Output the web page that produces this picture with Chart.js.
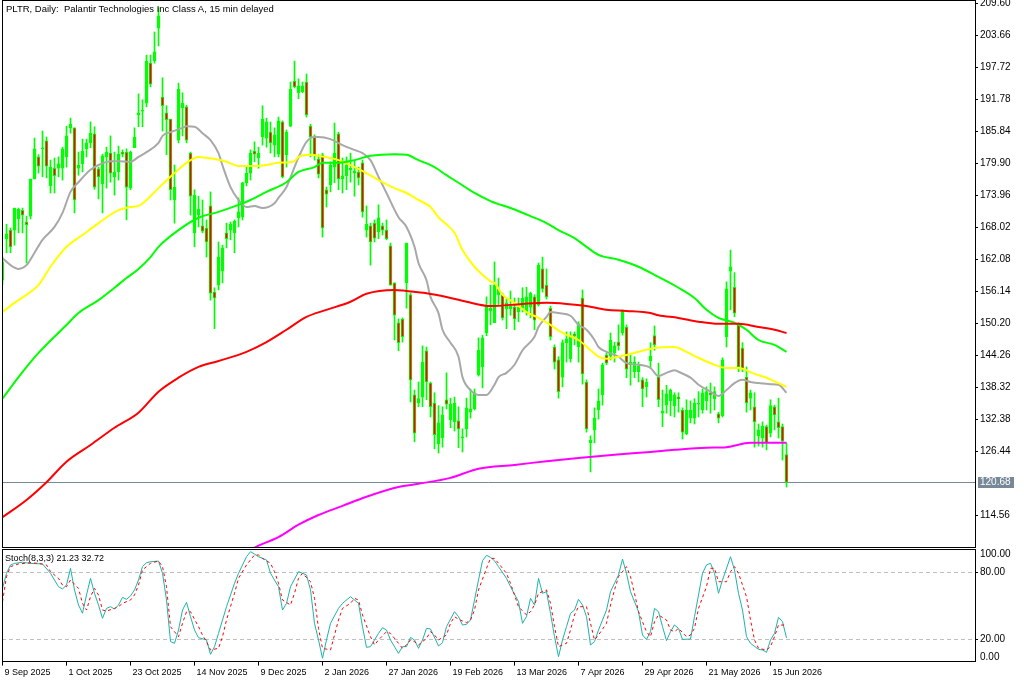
<!DOCTYPE html>
<html>
<head>
<meta charset="utf-8">
<script src="https://cdn.jsdelivr.net/npm/chart.js@4.4.1/dist/chart.umd.min.js"></script>
<style>
  html, body { margin:0; padding:0; background:#fff; }
  body { width:1024px; height:683px; position:relative; overflow:hidden; }
  #c1 { position:absolute; left:0; top:0; }
  #c2 { position:absolute; left:0; top:548px; }
  .lbl { position:absolute; font-family:"Liberation Sans", Arial, sans-serif; color:#000; white-space:pre; line-height:1; }
</style>
</head>
<body>
<canvas id="c1" width="1024" height="548"></canvas>
<canvas id="c2" width="1024" height="135"></canvas>
<div class="lbl" id="title" style="left:6px;top:4px;font-size:9.5px">PLTR, Daily:  Palantir Technologies Inc Class A, 15 min delayed</div>
<div class="lbl" id="stochTitle" style="left:5px;top:554px;font-size:9px"></div>
<script>
// ---------------- DATA ----------------
const tickLabels = ['9 Sep 2025','1 Oct 2025','23 Oct 2025','14 Nov 2025','9 Dec 2025','2 Jan 2026','27 Jan 2026','19 Feb 2026','13 Mar 2026','7 Apr 2026','29 Apr 2026','21 May 2026','15 Jun 2026'];
const priceTicks = [209.60,203.66,197.72,191.78,185.84,179.90,173.96,168.02,162.08,156.14,150.20,144.26,138.32,132.38,126.44,114.56];
const stochLevels = [0,20,80,100];

const openP = [158.2,165.9,167.5,167.5,169.6,171.2,169.0,170.1,177.0,181.1,182.6,184.1,175.7,179.0,179.0,179.0,181.1,186.5,186.5,179.0,
179.8,182.6,183.7,185.4,178.9,176.1,181.1,181.8,177.4,178.3,182.0,182.0,175.3,182.8,188.9,189.6,191.1,198.5,198.9,205.0,
192.2,189.3,188.1,173.1,184.2,190.2,190.4,181.8,167.0,170.3,168.3,167.9,172.0,156.0,157.3,159.9,167.0,167.5,167.0,169.8,
169.9,176.3,178.1,182.2,180.9,184.8,184.6,185.7,183.3,181.6,187.6,181.5,186.8,195.2,193.0,193.2,195.0,186.8,184.8,180.7,
181.5,175.0,175.9,179.2,185.4,177.0,177.6,178.7,178.1,178.3,180.0,167.5,168.3,168.8,167.2,168.3,167.5,164.6,157.7,150.3,
151.0,157.7,155.5,136.9,135.4,136.5,145.1,139.1,135.4,127.8,128.9,136.0,132.3,131.9,132.1,128.9,130.6,133.7,134.3,140.6,
142.1,148.4,152.5,150.3,155.5,155.5,152.9,152.9,153.2,152.3,153.0,152.3,153.2,155.1,153.6,160.3,157.3,153.0,145.8,143.4,
140.2,146.6,143.6,148.2,145.8,154.9,139.3,128.0,130.4,134.1,136.9,144.3,144.1,144.7,146.7,148.4,149.5,142.5,141.2,141.2,
139.7,138.4,143.2,147.9,140.2,133.5,135.0,135.8,134.9,136.5,134.1,129.7,132.6,132.6,135.2,134.1,135.8,137.3,136.2,133.4,
133.0,147.7,159.9,156.9,149.9,145.6,140.2,136.3,134.7,129.3,128.9,131.0,129.8,134.7,131.9,131.0,125.8];
const highP = [162.5,168.6,167.9,171.6,171.6,171.6,170.1,177.0,184.6,181.5,185.9,184.8,180.5,180.9,181.1,182.9,186.8,188.3,186.5,182.0,
184.4,184.4,187.6,186.7,179.2,181.6,182.9,185.0,182.0,183.1,182.4,182.6,182.2,186.5,192.8,191.7,200.0,200.0,204.3,208.8,
195.8,190.6,188.1,179.6,194.8,193.0,190.7,182.0,175.0,173.8,173.1,169.4,174.6,156.8,165.3,164.7,168.8,169.0,169.4,173.5,
176.4,179.4,182.4,183.9,182.9,190.6,188.3,187.6,186.5,188.5,187.8,186.1,195.0,198.9,195.6,195.0,196.5,187.2,185.2,181.5,
181.8,175.5,180.2,187.4,185.7,180.9,181.1,181.8,180.5,179.2,180.5,172.0,168.8,169.4,172.2,168.8,169.4,165.1,157.7,151.0,
151.2,165.1,155.8,137.8,139.3,146.0,145.8,139.3,137.3,134.9,134.7,141.0,136.3,136.5,134.7,130.6,136.3,138.0,138.0,147.5,
148.0,155.1,157.3,161.6,158.6,155.8,154.7,156.2,154.9,154.9,156.8,156.9,156.0,155.5,161.4,162.5,160.3,153.4,146.2,144.0,
147.1,148.6,148.6,148.6,150.5,156.4,139.7,129.3,134.5,138.0,142.8,144.7,148.4,146.7,149.9,152.7,149.9,144.3,144.0,143.0,
140.1,139.9,146.6,149.7,142.8,137.8,138.7,138.0,137.3,137.3,134.5,136.0,135.8,136.2,137.5,138.0,138.4,139.1,138.4,133.7,
143.8,157.9,163.8,159.6,150.3,146.6,142.1,137.8,137.3,131.5,131.9,131.3,136.0,135.0,136.3,131.5,128.0];
const lowP = [157.3,163.3,163.3,164.7,167.0,167.0,161.4,169.6,177.0,178.1,177.4,177.2,174.4,174.4,177.4,176.8,179.2,185.5,170.7,177.7,
178.3,181.1,182.8,175.1,173.3,170.7,175.3,176.4,174.0,176.8,181.1,169.4,175.0,182.8,186.7,186.7,190.4,194.1,198.5,201.7,
185.9,181.5,173.1,168.8,183.7,185.0,183.7,170.3,164.4,168.1,167.0,162.5,154.5,149.2,156.4,157.7,164.2,165.7,163.3,168.1,
169.4,175.7,176.8,180.2,179.0,183.3,182.9,181.8,181.1,181.1,177.2,179.2,186.7,193.9,191.9,193.0,188.5,181.1,180.5,177.2,
166.2,171.8,174.6,176.3,175.0,174.4,175.0,176.4,173.8,175.9,169.9,166.2,161.0,165.3,165.9,166.6,165.7,157.3,147.1,145.1,
146.7,153.0,135.6,128.2,134.7,134.7,136.0,132.8,126.9,126.1,127.2,134.3,130.8,130.2,127.1,126.3,129.1,132.6,134.1,140.4,
138.2,147.9,149.9,150.3,153.6,150.8,149.2,151.7,149.0,150.5,152.3,151.7,151.2,149.0,153.4,156.0,154.7,147.1,141.7,136.3,
138.4,143.0,143.0,146.2,143.0,138.9,130.0,122.6,128.0,132.4,135.0,142.5,143.4,143.0,145.2,148.0,140.1,138.7,140.1,139.3,
134.7,136.5,141.9,145.2,134.7,131.0,133.5,133.0,132.8,133.7,128.7,129.5,131.7,131.5,132.8,133.5,134.1,133.5,134.1,131.7,
132.8,145.8,152.7,151.4,141.2,141.2,133.7,134.1,127.2,127.4,127.2,126.7,129.1,130.4,128.9,124.8,119.8];
const closeP = [161.6,166.8,164.4,171.6,171.4,170.3,168.5,177.0,182.6,179.4,182.8,179.4,179.2,177.6,179.8,182.6,185.0,187.2,173.1,179.6,
182.2,183.7,185.5,175.5,177.4,181.3,182.0,178.1,178.3,181.6,181.6,175.5,182.0,184.8,189.3,189.8,198.9,194.6,200.6,207.3,
190.6,188.0,175.0,175.5,193.7,191.1,184.2,173.8,174.0,171.4,167.3,165.3,155.8,154.9,162.5,164.2,165.9,168.6,169.2,170.9,
176.3,178.1,181.8,181.6,181.8,188.1,187.6,183.7,185.2,187.8,177.4,185.7,193.7,194.1,194.3,194.3,188.9,184.8,181.5,177.9,
167.9,174.2,179.6,181.8,177.0,177.6,179.6,179.0,178.5,177.2,170.9,168.6,165.3,166.0,169.8,167.5,165.9,157.3,151.7,146.6,
147.7,165.1,139.7,129.8,136.2,143.0,139.3,134.7,129.5,131.7,133.2,135.2,135.2,135.4,130.6,129.1,134.5,134.3,137.3,145.2,
147.5,153.6,153.0,157.3,156.6,151.2,154.0,153.4,151.0,153.2,154.9,155.1,155.8,150.8,161.0,156.6,155.1,147.7,143.0,137.5,
146.6,147.3,147.9,147.9,150.1,140.8,130.6,128.5,132.6,135.8,142.5,142.8,147.1,146.0,146.0,152.5,141.7,143.0,143.0,142.3,
138.0,139.3,144.1,146.2,136.0,133.9,137.1,137.8,136.9,136.2,130.0,134.1,134.1,135.4,135.4,137.3,137.5,136.9,137.5,132.6,
143.4,156.6,160.7,152.1,142.1,141.7,135.4,137.3,131.9,130.4,131.1,128.0,134.9,133.2,130.8,128.3,120.68];

// moving averages: [bar, value]
const maGrey = [[0,162.3],[2,161.0],[4,160.3],[6,161.0],[8,163.3],[10,165.7],[13,168.1],[15,170.7],[17,174.6],[19,176.4],[22,178.7],[24,179.6],[27,180.3],[29,180.3],[32,180.2],[34,181.1],[36,182.0],[39,183.7],[40,185.0],[42,185.7],[45,186.5],[46,186.8],[48,186.7],[50,185.5],[52,184.2],[54,181.8],[55,179.5],[57,175.5],[59,173.1],[61,171.8],[63,172.0],[65,171.6],[68,172.5],[69,173.5],[71,175.5],[73,179.2],[74,181.0],[76,183.9],[78,184.8],[79,184.8],[82,184.4],[85,183.3],[88,182.4],[90,181.8],[92,180.5],[94,177.4],[96,174.4],[99,169.9],[101,168.1],[103,164.4],[104,161.4],[106,158.2],[107,155.1],[109,152.1],[110,149.0],[112,146.6],[114,144.0],[115,140.2],[117,137.8],[119,136.9],[121,136.9],[123,138.8],[124,140.2],[126,141.0],[128,142.5],[130,145.2],[133,147.7],[134,149.5],[136,151.4],[137,152.3],[139,152.1],[142,151.6],[144,149.9],[146,149.0],[148,147.1],[149,145.8],[151,144.9],[154,144.0],[156,142.8],[159,142.5],[162,141.9],[164,140.4],[166,141.0],[168,141.5],[169,141.2],[172,140.1],[174,138.8],[177,137.5],[179,136.7],[181,137.8],[183,139.1],[185,139.7],[187,139.3],[189,139.1],[192,138.9],[194,138.8],[196,137.3]];
const maYellow = [[0,152.3],[3,154.0],[6,155.5],[9,157.3],[12,160.7],[16,164.4],[20,166.6],[24,168.8],[29,171.2],[32,171.8],[34,172.0],[36,173.1],[39,175.3],[43,178.1],[46,180.0],[49,181.1],[53,180.7],[56,180.2],[59,179.4],[63,179.4],[66,179.6],[69,180.0],[73,180.3],[74,181.1],[77,181.5],[79,181.3],[84,180.5],[88,179.2],[91,178.1],[94,176.8],[98,175.3],[101,174.4],[104,173.1],[107,171.8],[109,169.9],[113,167.0],[115,163.8],[118,160.7],[120,159.2],[122,158.0],[123,157.7],[125,155.5],[128,154.0],[131,152.3],[134,151.2],[137,149.9],[140,148.4],[144,147.1],[147,145.2],[149,144.0],[151,143.6],[154,144.0],[156,144.3],[159,144.9],[163,145.6],[168,145.8],[171,144.9],[174,143.8],[178,142.5],[181,141.9],[184,141.9],[188,140.8],[191,140.1],[194,139.1],[196,138.4]];
const maGreen = [[0,136.2],[4,140.2],[9,144.7],[16,149.9],[19,152.1],[24,154.5],[28,156.8],[31,158.6],[34,160.3],[37,162.5],[39,164.4],[44,167.5],[49,169.8],[54,170.9],[59,172.2],[62,173.1],[66,174.6],[71,176.4],[74,178.3],[78,179.2],[80,180.0],[84,180.0],[88,180.5],[92,181.3],[98,181.6],[101,181.5],[104,180.5],[108,179.2],[111,177.7],[114,176.3],[118,174.4],[122,172.9],[127,171.6],[132,170.1],[136,168.8],[139,167.5],[143,166.0],[146,164.4],[149,162.9],[154,162.0],[159,160.7],[164,158.8],[169,156.8],[173,154.9],[176,152.7],[179,151.2],[183,150.3],[186,149.0],[189,147.1],[193,146.2],[196,144.9]];
const maRed = [[0,114.2],[6,117.4],[11,120.7],[16,124.5],[22,127.6],[28,130.8],[34,133.6],[39,137.5],[44,140.1],[49,142.1],[54,143.2],[61,144.9],[66,146.7],[71,149.0],[76,151.4],[81,152.7],[87,154.2],[91,155.7],[98,156.4],[101,156.2],[106,155.8],[111,155.1],[116,154.2],[122,153.4],[130,153.8],[136,154.0],[141,153.8],[146,153.4],[151,152.7],[156,152.5],[162,152.1],[164,151.7],[169,151.2],[174,150.5],[179,150.1],[184,150.1],[189,149.5],[193,149.0],[196,148.4]];
const maMagenta = [[61,107.7],[64,108.9],[69,110.5],[74,112.8],[79,114.6],[85,116.3],[91,118.0],[99,119.8],[104,120.4],[112,121.5],[119,123.2],[128,123.9],[136,124.6],[144,125.2],[153,125.8],[162,126.3],[168,126.7],[176,127.1],[181,127.2],[187,128.0],[196,128.0]];

// stochastic (8,3,3): [bar, value]
const stochK = [[0,65.6],[1,79.1],[2,86.6],[3,88.0],[5,89.0],[7,88.0],[10,87.5],[12,79.1],[13,73.1],[14,67.1],[15,65.1],[16,68.6],[17,83.6],[18,64.2],[19,50.7],[20,43.3],[21,59.7],[22,74.6],[23,61.2],[24,50.7],[25,38.8],[26,47.7],[27,49.2],[28,47.1],[29,50.7],[30,57.6],[31,55.8],[32,58.8],[33,64.2],[34,73.1],[35,85.1],[36,88.6],[37,89.5],[39,90.1],[40,79.1],[41,55.2],[42,17.9],[43,16.4],[44,28.3],[45,46.2],[46,53.1],[47,40.3],[48,28.3],[49,21.4],[51,19.4],[52,6.5],[53,13.4],[54,25.3],[56,49.2],[58,70.1],[59,79.1],[61,94.0],[62,98.5],[63,96.4],[64,94.0],[66,91.0],[67,79.1],[69,67.1],[70,46.2],[71,52.2],[72,67.1],[74,80.6],[76,77.6],[77,64.2],[78,34.3],[79,19.4],[80,3.0],[81,19.4],[82,34.3],[84,47.7],[85,52.2],[87,58.2],[89,52.2],[90,31.3],[91,12.8],[92,13.4],[94,25.3],[95,30.4],[96,28.3],[97,19.4],[99,7.4],[100,13.4],[101,13.4],[102,21.7],[103,19.4],[104,11.9],[105,19.4],[106,29.8],[107,29.2],[109,14.0],[110,17.0],[111,31.3],[113,44.7],[114,40.3],[115,32.8],[116,33.4],[117,37.3],[118,55.2],[119,73.1],[120,90.4],[121,95.2],[122,93.4],[123,90.4],[124,85.1],[126,74.6],[127,67.1],[129,53.7],[130,34.3],[131,40.3],[132,56.7],[133,50.7],[134,74.6],[135,61.2],[136,62.7],[137,43.2],[138,22.3],[139,4.4],[140,19.4],[141,31.3],[142,43.2],[143,46.2],[144,55.8],[145,50.7],[146,40.3],[147,14.9],[148,17.9],[149,28.3],[151,46.2],[152,62.7],[154,77.6],[155,91.9],[156,79.1],[157,62.7],[159,44.7],[160,23.8],[161,19.9],[162,26.8],[163,47.7],[164,44.7],[165,31.3],[166,18.8],[167,26.8],[168,32.8],[169,29.8],[170,19.9],[172,20.2],[173,40.3],[174,59.7],[175,79.1],[176,86.6],[177,88.1],[178,79.1],[179,61.2],[180,73.1],[182,94.0],[183,82.1],[184,61.2],[185,46.2],[186,22.3],[187,16.4],[189,11.0],[190,10.4],[191,8.3],[192,19.4],[193,25.3],[194,39.7],[195,35.8],[196,21.23]];
const stochD = [[0,53.7],[1,76.1],[2,85.1],[4,87.5],[7,88.5],[9,88.0],[11,86.6],[12,80.6],[14,74.6],[15,68.6],[16,67.1],[17,73.1],[19,65.6],[20,52.2],[21,46.2],[22,58.2],[23,65.6],[24,59.7],[25,46.2],[26,45.3],[28,47.7],[29,49.2],[30,52.2],[32,55.2],[33,59.7],[34,68.6],[35,82.1],[37,88.1],[39,90.1],[40,85.1],[41,67.1],[42,31.3],[44,22.3],[45,34.3],[46,44.7],[47,44.7],[49,31.3],[50,23.8],[51,17.9],[52,10.4],[54,11.9],[55,22.3],[56,37.3],[58,61.2],[59,74.6],[61,86.6],[63,95.5],[64,95.5],[65,92.5],[67,88.1],[68,80.6],[69,70.1],[70,55.2],[72,50.7],[73,61.2],[74,74.6],[75,79.1],[77,71.6],[78,56.7],[79,29.8],[80,11.9],[82,10.4],[83,23.8],[84,37.3],[85,47.7],[87,52.2],[88,56.7],[89,55.2],[90,41.8],[92,22.3],[93,14.9],[94,19.4],[96,26.8],[97,25.3],[99,16.4],[100,11.9],[101,14.9],[102,19.4],[103,17.9],[104,14.9],[106,20.8],[107,26.8],[108,23.8],[109,19.4],[111,23.8],[112,34.3],[113,40.3],[114,37.9],[116,34.9],[117,37.3],[118,46.2],[119,64.2],[121,83.6],[122,92.5],[123,92.5],[124,88.1],[126,79.1],[127,70.1],[128,59.7],[129,49.2],[131,41.8],[132,44.7],[133,50.7],[134,61.2],[136,64.2],[137,52.2],[138,31.3],[139,13.4],[141,16.4],[142,28.3],[143,41.8],[144,49.2],[146,49.2],[147,34.3],[148,19.4],[149,23.8],[151,34.3],[152,50.7],[153,64.2],[154,76.1],[156,85.1],[157,76.1],[158,61.2],[159,44.7],[161,26.8],[162,22.3],[163,35.8],[164,41.8],[166,37.3],[167,28.3],[168,26.8],[169,29.8],[171,22.3],[172,23.8],[173,29.8],[174,47.7],[176,67.1],[177,83.6],[178,83.6],[179,71.6],[181,71.6],[182,80.6],[183,85.1],[184,79.1],[186,58.2],[187,37.3],[188,19.4],[189,11.9],[191,10.4],[192,13.4],[193,22.3],[194,32.8],[196,32.72]];

// ---------------- CHART ----------------
const X_MIN = -0.125, X_MAX = 243.125;   // 4px per bar
const Y_MIN = 108.66, Y_MAX = 210.05;
const FONT = '"Liberation Sans", Arial, sans-serif';
const lastPrice = closeP[closeP.length - 1];
const lastK = stochK[stochK.length - 1][1], lastD = stochD[stochD.length - 1][1];
document.getElementById('stochTitle').textContent = 'Stoch(8,3,3) ' + lastK.toFixed(2) + ' ' + lastD.toFixed(2);

const wickData = openP.map((o, i) => ({ x: i, y: [lowP[i], highP[i]] }));
const bodyData = openP.map((o, i) => ({ x: i, y: [o, closeP[i]] }));
const pts = arr => arr.map(p => ({ x: p[0], y: p[1] }));
const lineDs = (arr, color, width) => ({
  type: 'line', data: pts(arr), borderColor: color, borderWidth: width,
  pointRadius: 0, cubicInterpolationMode: 'monotone', order: 0, fill: false
});

const mainPlugin = {
  id: 'mainDecor',
  beforeDatasetsDraw(chart) {
    const { ctx, chartArea: a, scales } = chart;
    const y = Math.round(scales.y.getPixelForValue(lastPrice)) + 0.5;
    ctx.save();
    ctx.strokeStyle = '#778899'; ctx.lineWidth = 1;
    ctx.beginPath(); ctx.moveTo(a.left, y); ctx.lineTo(a.right, y); ctx.stroke();
    ctx.restore();
  },
  afterDraw(chart) {
    const { ctx, chartArea: a, scales } = chart;
    ctx.save();
    ctx.strokeStyle = '#000'; ctx.lineWidth = 1;
    ctx.strokeRect(a.left + 0.5, 0.5, a.right - a.left, 547);
    const y = Math.round(scales.y.getPixelForValue(lastPrice));
    ctx.fillStyle = '#778899';
    ctx.fillRect(a.right + 3, y - 5, 36, 11);
    ctx.fillStyle = '#ffffff';
    ctx.font = '10px ' + FONT; ctx.textBaseline = 'middle'; ctx.textAlign = 'left';
    ctx.fillText(lastPrice.toFixed(2), a.right + 5, y + 0.5);
    ctx.restore();
  }
};

new Chart(document.getElementById('c1'), {
  type: 'bar',
  data: {
    datasets: [
      lineDs(maMagenta, '#ff00ff', 2),
      lineDs(maRed, '#ff0000', 2),
      lineDs(maGreen, '#00ff00', 2),
      lineDs(maYellow, '#ffff00', 2),
      lineDs(maGrey, '#a8a8a8', 2),
      { type: 'bar', data: bodyData, grouped: false, barThickness: 3, minBarLength: 1,
        backgroundColor: ctx => (closeP[ctx.dataIndex] >= openP[ctx.dataIndex] ? '#00ff00' : '#ff0000'),
        borderColor: '#00ff00', borderWidth: 1, borderSkipped: false, order: 2 },
      { type: 'bar', data: wickData, grouped: false, barThickness: 1, minBarLength: 1,
        backgroundColor: '#00ff00', borderWidth: 0, order: 3 }
    ]
  },
  options: {
    responsive: false, animation: false, devicePixelRatio: 1,
    layout: { padding: { left: 2, top: 1, right: 0, bottom: 1 } },
    plugins: { legend: { display: false }, tooltip: { enabled: false }, title: { display: false } },
    scales: {
      x: { type: 'linear', min: X_MIN, max: X_MAX, display: false, offset: false },
      y: {
        position: 'right', min: Y_MIN, max: Y_MAX,
        afterFit(s) { s.width = 49; s.paddingTop = 0; s.paddingBottom = 0; },
        afterBuildTicks(s) { s.ticks = priceTicks.map(v => ({ value: v })); },
        ticks: { callback: v => Number(v).toFixed(2), font: { family: FONT, size: 10 }, color: '#000', padding: 2, autoSkip: false },
        grid: { drawOnChartArea: false, drawTicks: true, tickLength: 3, color: '#000', tickColor: '#000' },
        border: { display: false }
      }
    }
  },
  plugins: [mainPlugin]
});

const stochPlugin = {
  id: 'stochDecor',
  beforeDatasetsDraw(chart) {
    const { ctx, chartArea: a, scales } = chart;
    ctx.save();
    ctx.strokeStyle = '#c0c0c0'; ctx.lineWidth = 1; ctx.setLineDash([4, 3]);
    stochLevels.filter(v => v > 0 && v < 100).forEach(v => {
      const y = Math.round(scales.y.getPixelForValue(v)) + 0.5;
      ctx.beginPath(); ctx.moveTo(a.left, y); ctx.lineTo(a.right, y); ctx.stroke();
    });
    ctx.restore();
  },
  afterDraw(chart) {
    const { ctx, chartArea: a, scales } = chart;
    ctx.save();
    ctx.strokeStyle = '#000'; ctx.lineWidth = 1;
    ctx.strokeRect(a.left + 0.5, 1.5, a.right - a.left, 112);
    ctx.font = '10px ' + FONT; ctx.fillStyle = '#000'; ctx.textBaseline = 'middle'; ctx.textAlign = 'left';
    stochLevels.forEach(v => {
      const yp = scales.y.getPixelForValue(v);
      let ty = yp;
      if (v === 100) ty = yp + 4.5;
      else if (v === 0) ty = yp - 4.5;
      else {
        const yy = Math.round(yp) + 0.5;
        ctx.beginPath(); ctx.moveTo(a.right, yy); ctx.lineTo(a.right + 3, yy); ctx.stroke();
      }
      ctx.fillText(v.toFixed(2), a.right + 5, ty);
    });
    ctx.restore();
  }
};

new Chart(document.getElementById('c2'), {
  type: 'line',
  data: {
    datasets: [
      { data: pts(stochD), borderColor: '#ff0000', borderWidth: 1, borderDash: [3, 3], pointRadius: 0, tension: 0, fill: false },
      { data: pts(stochK), borderColor: '#20b2aa', borderWidth: 1, pointRadius: 0, tension: 0, fill: false }
    ]
  },
  options: {
    responsive: false, animation: false, devicePixelRatio: 1,
    layout: { padding: { left: 2, top: 2, right: 49, bottom: 0 } },
    plugins: { legend: { display: false }, tooltip: { enabled: false } },
    scales: {
      x: {
        type: 'linear', min: X_MIN, max: X_MAX, position: 'bottom', offset: false,
        afterFit(s) { s.height = 21.4; s.paddingLeft = 0; s.paddingRight = 0; },
        afterBuildTicks(s) { s.ticks = tickLabels.map((t, k) => ({ value: k * 16 })); },
        ticks: {
          callback: v => tickLabels[Math.round(v / 16)] || '',
          align: 'start', labelOffset: 2, maxRotation: 0, minRotation: 0, autoSkip: false,
          font: { family: FONT, size: 9 }, color: '#000', padding: 2
        },
        grid: { drawOnChartArea: false, drawTicks: true, tickLength: 4, color: '#000', tickColor: '#000' },
        border: { display: false }
      },
      y: { min: 0, max: 100, display: false }
    }
  },
  plugins: [stochPlugin]
});
</script>
</body>
</html>
